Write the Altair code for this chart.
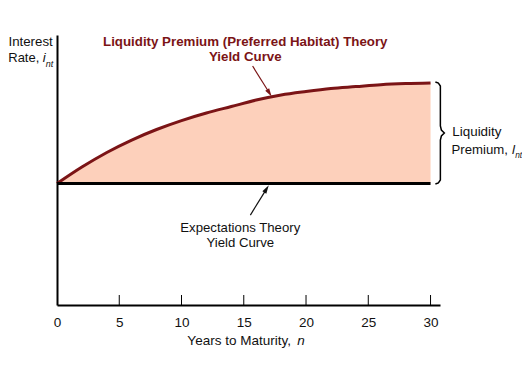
import altair as alt
import pandas as pd

# ---- data ----
years = [0, 2, 4, 6, 8, 10, 12, 14, 16, 18, 20, 22, 24, 26, 28, 30]
liquidity_premium_curve = [4.50, 5.11, 5.65, 6.11, 6.50, 6.83, 7.11, 7.35,
                           7.59, 7.78, 7.91, 8.02, 8.09, 8.16, 8.20, 8.22]
expectations_curve = [4.50] * len(years)
x_tick_values = [0, 5, 10, 15, 20, 25, 30]

# annotation texts (data coordinates)
title_text = ["Liquidity Premium (Preferred Habitat) Theory", "Yield Curve"]
title_x = [15.12, 15.12]
title_y = [9.74, 9.19]

exp_text = ["Expectations Theory", "Yield Curve"]
exp_x = [14.72, 14.72]
exp_y = [2.85, 2.30]

plain_right_text = ["Interest", "Rate,"]
plain_right_x = [-0.337, -1.42]
plain_right_y = [9.74, 9.15]

plain_left_text = ["Liquidity", "Premium,", "Years to Maturity,"]
plain_left_x = [31.75, 31.68, 10.47]
plain_left_y = [6.40, 5.74, -1.33]

italic_text = ["i", "l", "n"]
italic_x = [-1.14, 36.55, 19.30]
italic_y = [9.15, 5.74, -1.33]

sub_text = ["nt", "nt"]
sub_x = [-0.90, 36.80]
sub_y = [8.93, 5.52]

arrow_x = [15.71, 15.53]
arrow_y = [8.85, 3.33]
arrow_x2 = [17.06, 16.83]
arrow_y2 = [7.85, 4.30]
arrow_angle = [148, 32]
arrow_color = ["#7b1416", "#111111"]

brace_x = [30.39, 30.63, 30.79, 30.79, 30.87, 31.11, 30.87, 30.79, 30.79, 30.63, 30.39]
brace_y = [8.26, 8.22, 8.11, 6.63, 6.48, 6.37, 6.26, 6.11, 4.63, 4.52, 4.48]

# ---- tables ----
curves = pd.DataFrame({"year": years, "liq": liquidity_premium_curve, "exp": expectations_curve})
ticks = pd.DataFrame({"x": x_tick_values[1:], "y": [0] * 6, "yy": [0.37] * 6})
arrows = pd.DataFrame({"ax": arrow_x, "ay": arrow_y, "bx": arrow_x2, "by": arrow_y2,
                       "ang": arrow_angle, "col": arrow_color})
brace = pd.DataFrame({"x": brace_x, "y": brace_y, "order": list(range(len(brace_x)))})

FONT = "Liberation Sans"
RED = "#7b1416"
FILL = "#fdd0bb"
INK = "#111111"

xscale = alt.Scale(domain=[0, 30.76], nice=False, zero=False)
yscale = alt.Scale(domain=[0, 10], nice=False, zero=False)


def X(field):
    return alt.X(f"{field}:Q", scale=xscale, title=None,
                 axis=alt.Axis(values=x_tick_values, ticks=False, tickSize=0, grid=False,
                               domainColor="black", domainWidth=2, labelPadding=10,
                               labelFont=FONT, labelFontSize=13.5, labelColor=INK,
                               labelFlush=False, format="d"))


def Y(field):
    return alt.Y(f"{field}:Q", scale=yscale, title=None,
                 axis=alt.Axis(ticks=False, labels=False, grid=False,
                               domainColor="black", domainWidth=2))


area = alt.Chart(curves).mark_area(color=FILL, opacity=1, interpolate="monotone").encode(
    x=X("year"), y=Y("liq"), y2="exp:Q")
liq_line = alt.Chart(curves).mark_line(color=RED, strokeWidth=3, interpolate="monotone").encode(
    x=X("year"), y=Y("liq"))
exp_line = alt.Chart(curves).mark_line(color="black", strokeWidth=3).encode(
    x=X("year"), y=Y("exp"))
tick_marks = alt.Chart(ticks).mark_rule(color="black", strokeWidth=1).encode(
    x=X("x"), y=Y("y"), y2="yy:Q")
arrow_lines = alt.Chart(arrows).mark_rule(strokeWidth=1.2).encode(
    x=X("ax"), y=Y("ay"), x2="bx:Q", y2="by:Q", color=alt.Color("col:N", scale=None))
arrow_heads = alt.Chart(arrows).mark_point(
    shape="M0,-1L0.55,1L-0.55,1Z", filled=True, size=70, opacity=1, strokeWidth=0).encode(
    x=X("bx"), y=Y("by"),
    angle=alt.Angle("ang:Q", scale=None), fill=alt.Fill("col:N", scale=None))
brace_line = alt.Chart(brace).mark_line(color="black", strokeWidth=1.5, interpolate="linear").encode(
    x=X("x"), y=Y("y"), order="order:Q")


def text_layer(texts, xs, ys, size, **kw):
    df = pd.DataFrame({"x": xs, "y": ys, "t": texts, "s": size})
    return alt.Chart(df).mark_text(font=FONT, baseline="middle", **kw).encode(
        x=X("x"), y=Y("y"), text="t:N", size=alt.Size("s:Q", scale=None))


titles = text_layer(title_text, title_x, title_y, [13.3, 13.3], align="center",
                    fontWeight="bold", color=RED)
exp_labels = text_layer(exp_text, exp_x, exp_y, [13.2, 13.2], align="center", color=INK)
right_labels = text_layer(plain_right_text, plain_right_x, plain_right_y, [13.3, 13.0],
                          align="right", color=INK)
left_labels = text_layer(plain_left_text, plain_left_x, plain_left_y, [13.4, 13.2, 13.5],
                         align="left", color=INK)
italics = text_layer(italic_text, italic_x, italic_y, [13.3, 13.3, 13.5], align="left",
                     fontStyle="italic", color=INK)
subs = text_layer(sub_text, sub_x, sub_y, [9, 8.3], align="left",
                  fontStyle="italic", color=INK)

chart = alt.layer(area, liq_line, exp_line, tick_marks, arrow_lines, arrow_heads, brace_line,
                  titles, exp_labels, right_labels, left_labels, italics, subs).properties(
    width=383, height=270,
    autosize="none",
    padding={"left": 49, "top": 27, "right": 82, "bottom": 52},
    background="white",
).configure_view(stroke=None)

chart.save("out.html", embed_options={"renderer": "svg", "actions": False})
